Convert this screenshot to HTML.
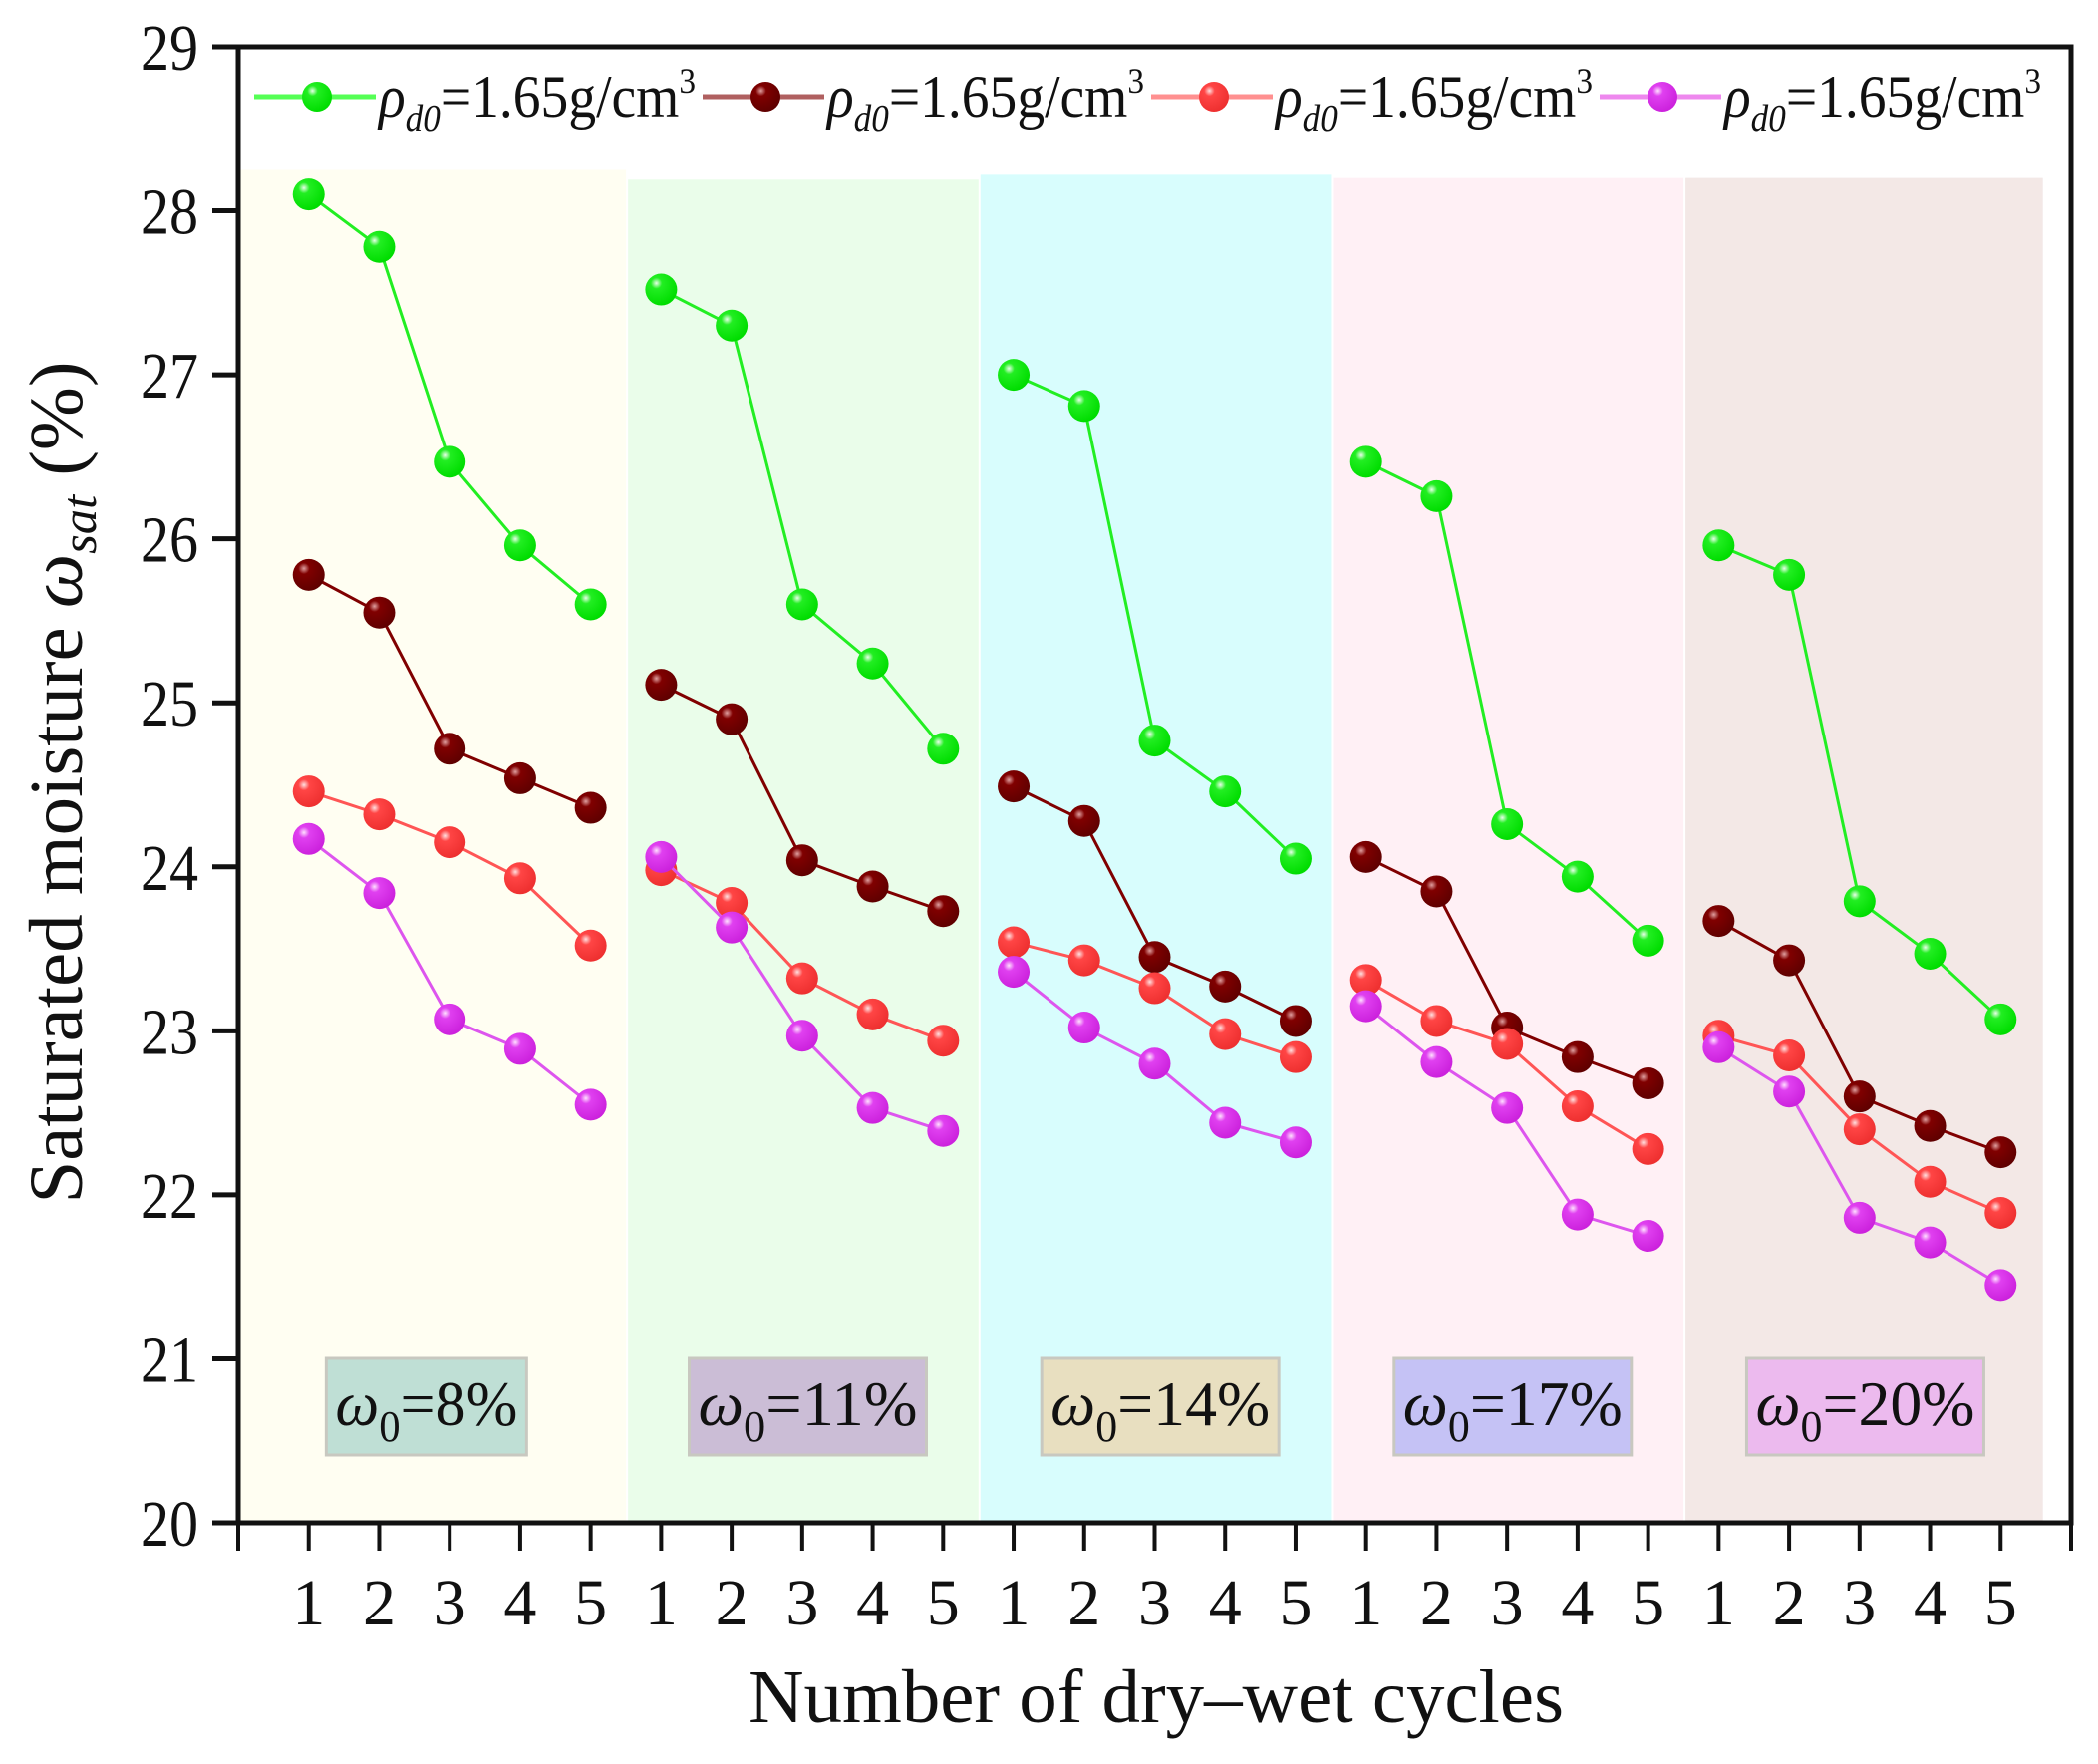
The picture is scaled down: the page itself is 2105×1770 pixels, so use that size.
<!DOCTYPE html>
<html><head><meta charset="utf-8"><style>
html,body{margin:0;padding:0;background:#fff;}
svg{display:block;font-family:"Liberation Serif","DejaVu Serif",serif;}
</style></head><body>
<svg id="chart" width="2105" height="1770" viewBox="0 0 2105 1770" xmlns="http://www.w3.org/2000/svg">
<defs>
<radialGradient id="gG" cx="35%" cy="30%" r="70%"><stop offset="0" stop-color="#e8ffe8"/><stop offset="0.25" stop-color="#22ee22"/><stop offset="1" stop-color="#00dd00"/></radialGradient>
<radialGradient id="gD" cx="35%" cy="30%" r="70%"><stop offset="0" stop-color="#e0a0a0"/><stop offset="0.25" stop-color="#800000"/><stop offset="1" stop-color="#600000"/></radialGradient>
<radialGradient id="gR" cx="35%" cy="30%" r="70%"><stop offset="0" stop-color="#ffe0e0"/><stop offset="0.25" stop-color="#ff4545"/><stop offset="1" stop-color="#ee3030"/></radialGradient>
<radialGradient id="gP" cx="35%" cy="30%" r="70%"><stop offset="0" stop-color="#ffe0ff"/><stop offset="0.25" stop-color="#e040f0"/><stop offset="1" stop-color="#cc22dd"/></radialGradient>
</defs>
<g id="bands"></g>
<g id="boxes"></g>
<g id="series"></g>
<g id="axes"></g>
<g id="legend"></g>
</svg>
<script>
const groups = ["ω0=8%","ω0=11%","ω0=14%","ω0=17%","ω0=20%"];
const cycles = [1,2,3,4,5];
const yTicks = [20,21,22,23,24,25,26,27,28,29];
const greenVals = [28.1,27.78,26.47,25.96,25.6, 27.52,27.3,25.6,25.24,24.72, 27.0,26.81,24.77,24.46,24.05, 26.47,26.26,24.26,23.94,23.55, 25.96,25.78,23.79,23.47,23.07];
const darkVals = [25.78,25.55,24.72,24.54,24.36, 25.11,24.9,24.04,23.88,23.73, 24.49,24.28,23.45,23.27,23.06, 24.06,23.85,23.02,22.84,22.68, 23.67,23.43,22.6,22.42,22.26];
const redVals = [24.46,24.32,24.15,23.93,23.52, 23.98,23.78,23.32,23.1,22.94, 23.54,23.43,23.26,22.98,22.84, 23.31,23.06,22.92,22.54,22.28, 22.97,22.85,22.4,22.08,21.89];
const purpleVals = [24.17,23.84,23.07,22.89,22.55, 24.06,23.63,22.97,22.53,22.39, 23.36,23.02,22.8,22.44,22.32, 23.15,22.81,22.53,21.88,21.75, 22.9,22.63,21.86,21.71,21.45];
const bandTops = [28.25,28.19,28.22,28.2,28.2];
const legendLabel = "1.65g/cm";

const NS="http://www.w3.org/2000/svg";
const L=239,R=2078,T=47,B=1528;
const xs=i=>L+(R-L)*i/26;
const ys=v=>B-(B-T)*(v-20)/9;
function mk(tag,attrs,parent){const e=document.createElementNS(NS,tag);for(const k in attrs)e.setAttribute(k,attrs[k]);parent.appendChild(e);return e;}
const bandsG=document.getElementById('bands'),boxesG=document.getElementById('boxes'),serG=document.getElementById('series'),axG=document.getElementById('axes'),lgG=document.getElementById('legend');
const bandColors=["#fffef2","#eafdea","#d8fdfd","#fff0f5","#f3e8e6"];
const boxColors=["#bfdfd5","#cbbdd6","#e8dfc0","#c5c2f5","#ecbaee"];
groups.forEach((g,k)=>{
  const x0=k===0?xs(0):xs(5*k+0.53), x1=k===4?xs(25.6):xs(5*k+5.53)-2;
  const r=mk('rect',{x:x0,y:ys(bandTops[k]),width:x1-x0,height:B-ys(bandTops[k]),fill:bandColors[k]},bandsG);
  
  
  const cx=k===0?xs(2.67):xs(5*k+3.08);
  const w=k===0?201:238;
  const bx=mk('rect',{x:cx-w/2,y:1363,width:w,height:97,fill:boxColors[k],stroke:"#c8c8c0","stroke-width":3},boxesG);
  
  
  const t=mk('text',{x:cx,y:1430,"font-size":64,"text-anchor":"middle",fill:"#111",textLength:w-18,lengthAdjust:"spacingAndGlyphs"},boxesG);
  
  
  const pct=g.split('=')[1];
  t.innerHTML='<tspan font-style="italic">ω</tspan><tspan font-size="44" dy="16">0</tspan><tspan dy="-16">='+pct+'</tspan>';
});
const series=[{v:greenVals,line:"#22ee22",g:"gG",n:"green"},{v:darkVals,line:"#800000",g:"gD",n:"darkred"},{v:redVals,line:"#ff5555",g:"gR",n:"red"},{v:purpleVals,line:"#dd55ee",g:"gP",n:"purple"}];
series.forEach(s=>{
  for(let k=0;k<5;k++){
    const pts=[];for(let j=0;j<5;j++){const i=5*k+j;pts.push(xs(i+1)+','+ys(s.v[i]));}
    const pl=mk('polyline',{points:pts.join(' '),fill:"none",stroke:s.line,"stroke-width":3},serG);
    
    
  }
  s.v.forEach((v,i)=>{
    const c=mk('circle',{cx:xs(i+1),cy:ys(v),r:16,fill:'url(#'+s.g+')'},serG);
    
    
  });
});
const frame=mk('rect',{x:L,y:T,width:R-L,height:B-T,fill:"none",stroke:"#111","stroke-width":5},axG);


yTicks.forEach(v=>{
  mk('line',{x1:L-26,x2:L,y1:ys(v),y2:ys(v),stroke:"#111","stroke-width":5},axG);
  const t=mk('text',{x:L-40,y:ys(v)+23,"font-size":66,"text-anchor":"end",fill:"#111",textLength:58,lengthAdjust:"spacingAndGlyphs"},axG);
  
  
  t.textContent=v;
});
for(let i=0;i<=26;i++){mk('line',{x1:xs(i),x2:xs(i),y1:B,y2:B+28,stroke:"#111","stroke-width":4},axG);}
for(let i=0;i<25;i++){
  const t=mk('text',{x:xs(i+1),y:1630,"font-size":66,"text-anchor":"middle",fill:"#111"},axG);
  
  
  t.textContent=cycles[i%5];
}
const xt=mk('text',{x:1160,y:1728,"font-size":76,"text-anchor":"middle",fill:"#111",textLength:818,lengthAdjust:"spacingAndGlyphs"},axG);


xt.textContent="Number of dry–wet cycles";
const yt=mk('text',{x:0,y:0,"font-size":76,"text-anchor":"middle",fill:"#111",transform:"translate(82,785) rotate(-90)",textLength:845,lengthAdjust:"spacingAndGlyphs"},axG);


yt.innerHTML='Saturated moisture <tspan font-style="italic">ω</tspan><tspan font-style="italic" font-size="50" dy="14">sat</tspan><tspan dy="-14"> (%)</tspan>';
const lgLine=["#55ff55","#b06060","#ff9090","#ee88ee"];
series.forEach((s,k)=>{
  const x0=255+k*450;
  const ln=mk('line',{x1:x0,x2:x0+122,y1:97,y2:97,stroke:lgLine[k],"stroke-width":5},lgG);
  
  
  const c=mk('circle',{cx:x0+63,cy:97,r:15,fill:'url(#'+s.g+')'},lgG);
  
  
  const t=mk('text',{x:x0+125,y:117,"font-size":60,fill:"#111",textLength:318,lengthAdjust:"spacingAndGlyphs"},lgG);
  
  
  t.innerHTML='<tspan font-style="italic">ρ</tspan><tspan font-style="italic" font-size="38" dy="14">d0</tspan><tspan dy="-14">='+legendLabel+'</tspan><tspan font-size="36" dy="-24">3</tspan>';
});
</script>
</body></html>
